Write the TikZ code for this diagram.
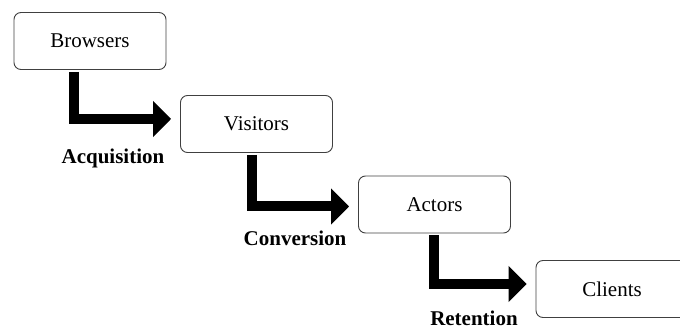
\documentclass[tikz,border=0pt]{standalone}
\usepackage{fontspec}
\setmainfont{Liberation Serif}
\usetikzlibrary{arrows.meta,positioning}

\begin{document}
\begin{tikzpicture}[
    x=1pt, y=-1pt,
    >={Triangle[length=18pt,width=35pt]},
    stage/.style = {draw=black!75, line width=0.9pt, rounded corners=7pt, minimum width=152pt, minimum height=57pt, inner sep=0pt, font=\fontsize{21}{25}\selectfont},
    flow/.style  = {->, line width=10pt, line join=miter, shorten <=2pt, shorten >=9pt},
    phase/.style = {font=\fontsize{21}{25}\selectfont\bfseries},
  ]
	\clip (0,0) rectangle (680,328);
	
	% Stufen
	\node (B) at (90,41) [stage] {Browsers};
	\node (V) at (256.5,124) [stage] {Visitors};
	\node (A) at (434.5,204.5) [stage] {Actors};
	\node (C) at (612,289) [stage] {Clients};
	
	% Pfeile zwischen den Stufen
	\draw[flow] ([xshift=60.5pt]B.south west) |- ([yshift=5pt]V.west);
	\draw[flow] ([xshift=71.5pt]V.south west) |- ([yshift=-2pt]A.west);
	\draw[flow] ([xshift=76pt]A.south west) |- ([yshift=5pt]C.west);
	
	% Beschriftung der Pfeile
	\node (acq) at (113,158) [phase] {Acquisition};
	\node (conv) at (295,238) [phase] {Conversion};
	\node (ret) at (474,318) [phase] {Retention};
	
\end{tikzpicture}
\end{document}
